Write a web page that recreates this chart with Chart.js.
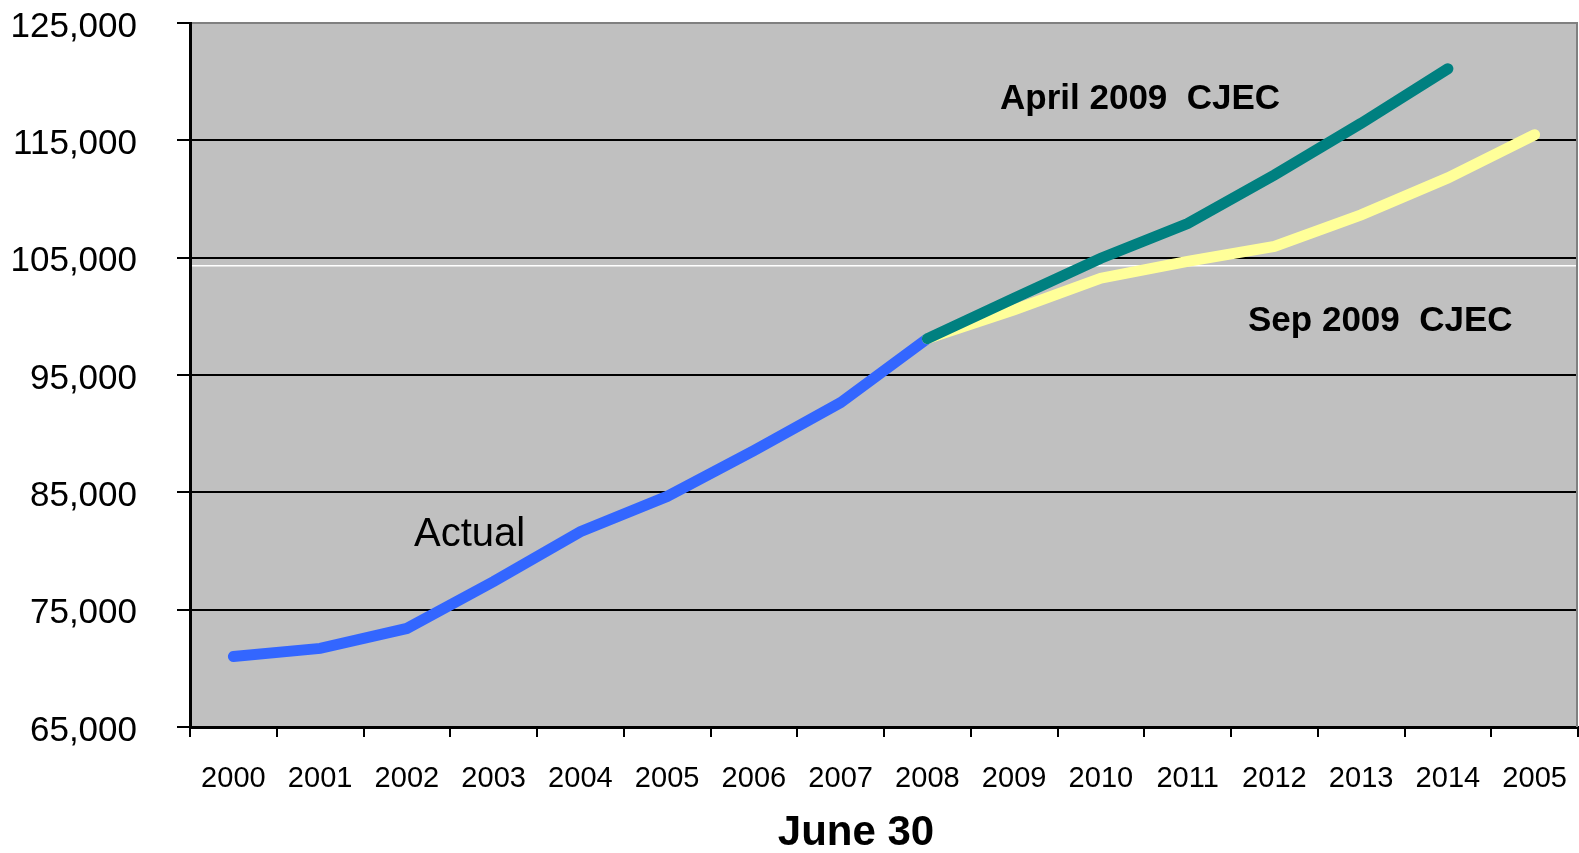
<!DOCTYPE html>
<html lang="en">
<head>
    <meta charset="UTF-8">
    <title>June 30 - Actual and CJEC projections</title>
    <script src="https://cdn.jsdelivr.net/npm/chart.js"></script>
    <style>
        html, body {
            margin: 0;
            padding: 0;
            background: #fff;
        }
        canvas {
            display: block;
        }
    </style>
</head>
<body>
    <canvas id="cjecChart" width="1579" height="853"></canvas>

    <script>
        // data
        const years = ['2000', '2001', '2002', '2003', '2004', '2005', '2006', '2007', '2008',
                       '2009', '2010', '2011', '2012', '2013', '2014', '2005'];
        const actual = [71000, 71700, 73400, 77400, 81650, 84650, 88550, 92650, 98100,
                        null, null, null, null, null, null, null];
        const april2009 = [null, null, null, null, null, null, null, null,
                           98100, 101550, 104950, 107900, 112050, 116450, 121100, null];
        const sep2009 = [null, null, null, null, null, null, null, null,
                         98100, 100550, 103250, 104680, 105950, 108650, 111800, 115480];

        const yMin = 65000;
        const yMax = 125000;
        const yStep = 10000;

        const FONT = "'Liberation Sans', Arial, sans-serif";

        // grey plot area, right border and the thin white streak under the 105,000 line
        const plotArea = {
            id: 'plotArea',
            beforeDraw(chart) {
                const { ctx, chartArea: a } = chart;
                ctx.save();
                ctx.fillStyle = '#c0c0c0';
                ctx.fillRect(a.left, a.top, a.right - a.left, a.bottom - a.top);
                ctx.restore();
            },
            beforeDatasetsDraw(chart) {
                const { ctx, chartArea: a, scales } = chart;
                const y = scales.y.getPixelForValue(104310);
                ctx.save();
                ctx.strokeStyle = '#ffffff';
                ctx.lineWidth = 1.5;
                ctx.beginPath();
                ctx.moveTo(a.left + 2, y);
                ctx.lineTo(a.right, y);
                ctx.stroke();
                ctx.strokeStyle = '#808080';
                ctx.lineWidth = 2;
                ctx.beginPath();
                ctx.moveTo(a.right - 1, a.top);
                ctx.lineTo(a.right - 1, a.bottom);
                ctx.stroke();
                ctx.restore();
            }
        };

        // series names and axis caption written on the chart
        const chartText = {
            id: 'chartText',
            afterDatasetsDraw(chart) {
                const { ctx } = chart;
                ctx.save();
                ctx.fillStyle = '#000';
                ctx.textBaseline = 'alphabetic';
                ctx.textAlign = 'left';
                ctx.font = 'bold 35px ' + FONT;
                ctx.fillText('April 2009  CJEC', 1000, 109);
                ctx.fillText('Sep 2009  CJEC', 1248, 331);
                ctx.font = '40px ' + FONT;
                ctx.fillText('Actual', 414, 546);
                ctx.font = 'bold 42px ' + FONT;
                ctx.textAlign = 'center';
                ctx.fillText('June 30', 856, 845);
                ctx.restore();
            }
        };

        const lineStyle = {
            borderWidth: 11,
            pointRadius: 0,
            pointHoverRadius: 0,
            tension: 0,
            borderCapStyle: 'round',
            borderJoinStyle: 'miter',
            spanGaps: false,
            fill: false
        };

        const ctx = document.getElementById('cjecChart').getContext('2d');

        const cjecChart = new Chart(ctx, {
            type: 'line',
            data: {
                labels: years,
                datasets: [
                    Object.assign({ label: 'April 2009 CJEC', data: april2009, borderColor: '#008080', order: 0 }, lineStyle),
                    Object.assign({ label: 'Sep 2009 CJEC', data: sep2009, borderColor: '#ffff99', order: 1 }, lineStyle),
                    Object.assign({ label: 'Actual', data: actual, borderColor: '#3366ff', order: 2 }, lineStyle)
                ]
            },
            options: {
                responsive: false,
                animation: false,
                events: [],
                layout: {
                    padding: { top: 23, right: 1, bottom: 0, left: 0 }
                },
                plugins: {
                    legend: { display: false },
                    tooltip: { enabled: false },
                    title: { display: false }
                },
                scales: {
                    x: {
                        offset: true,
                        afterFit(scale) {
                            scale.height = 126;
                            scale.paddingLeft = 0;
                            scale.paddingRight = 0;
                        },
                        grid: {
                            offset: true,
                            drawOnChartArea: false,
                            drawTicks: true,
                            tickLength: 10,
                            tickWidth: 2,
                            tickColor: '#000',
                            color: '#000',
                            lineWidth: 2
                        },
                        border: { display: true, color: '#000', width: 3 },
                        ticks: {
                            autoSkip: false,
                            maxRotation: 0,
                            minRotation: 0,
                            padding: 25,
                            color: '#000',
                            font: { family: FONT, size: 29 }
                        }
                    },
                    y: {
                        min: yMin,
                        max: yMax,
                        afterFit(scale) {
                            scale.width = 190;
                            scale.paddingTop = 0;
                            scale.paddingBottom = 0;
                        },
                        grid: {
                            drawTicks: true,
                            tickLength: 13,
                            tickWidth: 2,
                            tickColor: '#000',
                            lineWidth: 2,
                            color: (c) => (c.tick && c.tick.value === yMax ? '#808080' : '#000')
                        },
                        border: { display: true, color: '#000', width: 3 },
                        ticks: {
                            stepSize: yStep,
                            padding: 40,
                            labelOffset: 4,
                            color: '#000',
                            font: { family: FONT, size: 35 },
                            callback: (v) => v.toLocaleString('en-US')
                        }
                    }
                }
            },
            plugins: [plotArea, chartText]
        });
    </script>
</body>
</html>
